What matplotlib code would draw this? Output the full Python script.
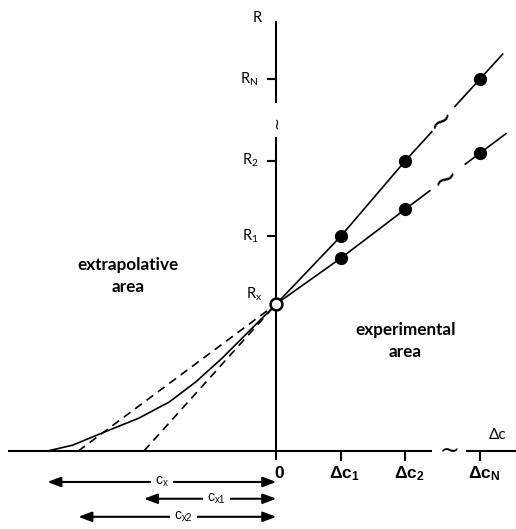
import numpy as np
import matplotlib.pyplot as plt

plt.rcParams['mathtext.default'] = 'regular'

# concentration increments (in units of the first addition) and responses
dc = [1.0, 2.0, 3.16]
dc_labels = ['Δc_1', 'Δc_2', 'Δc_N']
Rx = 2.28
R_steep = [3.33, 4.50, 5.77]
R_flat = [2.99, 3.75, 4.62]
R_labels = ['R_1', 'R_2', 'R_N']

# curved (non-linear) extrapolation towards the x axis
curve_x = [-3.55, -3.16, -2.65, -2.13, -1.66, -1.25, -0.84, -0.48, -0.22, 0.0]
curve_y = [0.0, 0.09, 0.30, 0.51, 0.76, 1.07, 1.44, 1.80, 2.06, 2.28]

fig = plt.figure(figsize=(5.16, 5.29), dpi=100)
ax = fig.add_axes([0, 0, 1, 1])
ax.set_xlim(-4.284, 3.716)
ax.set_ylim(-1.209, 6.992)
ax.axis('off')

lw_axis = 1.5
lw_line = 1.2
k = 'black'


def along(xs, ys, x):
    # linear through the points, carried on past the last one
    if x <= xs[-1]:
        return np.interp(x, xs, ys)
    s = (ys[-1] - ys[-2]) / (xs[-1] - xs[-2])
    return ys[-1] + s * (x - xs[-1])


# axes with breaks
ax.plot([0, 0], [-0.14, 4.87], color=k, lw=lw_axis, solid_capstyle='butt')
ax.plot([0, 0], [5.40, 6.67], color=k, lw=lw_axis, solid_capstyle='butt')
ax.text(0.0, 5.09, '~', rotation=90, ha='center', va='center', fontsize=11,
        family='DejaVu Sans')
ax.plot([-4.16, 2.42], [0, 0], color=k, lw=lw_axis, solid_capstyle='butt')
ax.plot([2.94, 3.72], [0, 0], color=k, lw=lw_axis, solid_capstyle='butt')
ax.text(2.68, 0.0, '~', ha='center', va='center', fontsize=17,
        family='DejaVu Sans')

# ticks and tick labels
for x, lab in zip(dc, dc_labels):
    ax.plot([x, x], [0, -0.14], color=k, lw=lw_axis)
    ax.text(x + 0.06, -0.35, '$' + lab + '$', ha='center', va='center',
            fontsize=12.5, fontweight='bold', family='Liberation Sans')
ax.text(0.04, -0.35, '0', ha='center', va='center', fontsize=12.5,
        fontweight='bold', family='Liberation Sans')
for r, lab in zip(R_steep, R_labels):
    ax.plot([-0.13, 0], [r, r], color=k, lw=lw_axis)
    ax.text(-0.28, r, '$' + lab + '$', ha='right', va='center', fontsize=10.5,
            family='Lato')
ax.text(-0.30, 6.71, 'R', ha='center', va='center', fontsize=10.5, family='Lato')
ax.text(-0.21, 2.30, '$R_x$', ha='right', va='bottom', fontsize=10.5, family='Lato')
ax.text(3.43, 0.25, 'Δc', ha='center', va='center', fontsize=11, family='Lato')

# calibration lines, each broken before the last point
breaks = {'steep': (2.41, 2.77, 3.51, 38), 'flat': (2.38, 2.93, 3.56, 30)}
intercepts = []
for name, R in (('steep', R_steep), ('flat', R_flat)):
    xs = [0.0] + dc
    ys = [Rx] + R
    b0, b1, xend, rot = breaks[name]
    ax.plot([0, dc[0], dc[1], b0], [Rx, R[0], R[1], along(xs, ys, b0)],
            color=k, lw=lw_line)
    ax.plot([b1, xend], [along(xs, ys, b1), along(xs, ys, xend)],
            color=k, lw=lw_line)
    xm = (b0 + b1) / 2
    ax.text(xm - 0.03, along(xs, ys, xm) - 0.02, '~', rotation=rot,
            ha='center', va='center', fontsize=22, family='DejaVu Sans')
    ax.plot(dc, R, 'o', color=k, ms=8.5, zorder=4)
    # straight-line extrapolation back to the x axis
    slope = np.polyfit(xs, ys, 1)[0]
    x0 = -Rx / slope
    intercepts.append(x0)
    ax.plot([x0, 0], [0, Rx], color=k, lw=lw_line, ls=(0, (5, 3.5)))

ax.plot(curve_x, curve_y, color=k, lw=lw_line)
ax.plot([0], [Rx], 'o', ms=8.5, mfc='white', mec=k, mew=1.8, zorder=5)

# area labels
ax.text(-2.30, 2.71, 'extrapolative\narea', ha='center', va='center',
        fontsize=12.3, fontweight='bold', family='Lato', linespacing=1.45)
ax.text(2.0, 1.71, 'experimental\narea', ha='center', va='center',
        fontsize=12.3, fontweight='bold', family='Lato', linespacing=1.45)

# distance arrows
arrows = [(curve_x[0], -0.48, -1.77, '$c_x$'),
          (intercepts[0], -0.74, -0.93, '$c_{x1}$'),
          (intercepts[1], -1.02, -1.44, '$c_{x2}$')]
for x0, y, xt, lab in arrows:
    ax.annotate('', xy=(x0, y), xytext=(0, y),
                arrowprops=dict(arrowstyle='<|-|>,head_length=0.8,head_width=0.3',
                                color=k, lw=1.5, shrinkA=0, shrinkB=0))
    ax.text(xt, y, lab, ha='center', va='center', fontsize=10,
            family='Liberation Sans',
            bbox=dict(facecolor='white', edgecolor='none', pad=3))

fig.savefig('out.png', dpi=100)
